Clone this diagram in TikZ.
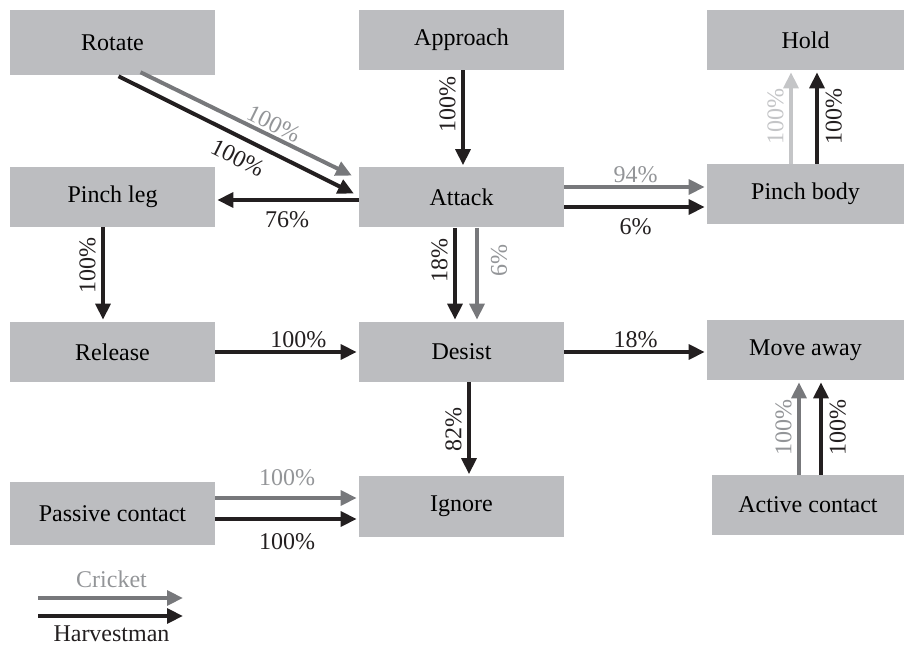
\documentclass[tikz,border=0pt]{standalone}
\usepackage{fontspec}
\setmainfont{Liberation Serif}
\usetikzlibrary{arrows.meta,calc}
\definecolor{boxgray}{HTML}{BCBDC0}
\definecolor{harvest}{HTML}{231F20}
\definecolor{cricket}{HTML}{77787B}
\definecolor{crickettext}{HTML}{939598}
\definecolor{pale}{HTML}{C4C5C7}
\tikzset{
	stage/.style = {fill=boxgray, minimum width=153.75pt, minimum height=45pt, inner sep=0pt,
		font=\fontsize{18}{20}\selectfont},
	flow/.style = {line width=3pt, -{Triangle[length=12pt, width=11pt]}, shorten >=1.5pt},
	harv/.style = {flow, draw=harvest},
	crick/.style = {flow, draw=cricket},
	palearrow/.style = {flow, draw=pale},
	pct/.style = {font=\fontsize{18}{20}\selectfont, inner sep=1.5pt, text=harvest},
	vpct/.style = {pct, rotate=90, inner sep=4pt},
}
\begin{document}
\begin{tikzpicture}[x=0.75pt, y=-0.75pt]
	\useasboundingbox (0,0) rectangle (904,645);
	% Stages
	\node[stage, minimum height=48.75pt] (rotate) at (112.5,42.5) {Rotate};
	\node[stage] (approach) at (461.5,40) {Approach};
	\node[stage, minimum width=147.75pt] (hold) at (805.5,40) {Hold};
	\node[stage] (pinchleg) at (112.5,197) {Pinch leg};
	\node[stage] (attack) at (461.5,197.5) {Attack};
	\node[stage, minimum width=147.75pt] (pinchbody) at (805.5,194) {Pinch body};
	\node[stage] (release) at (112.5,352) {Release};
	\node[stage] (desist) at (461.5,352) {Desist};
	\node[stage, minimum width=147.75pt] (moveaway) at (805.5,350) {Move away};
	\node[stage, minimum height=47.25pt] (passive) at (112.5,513.5) {Passive contact};
	\node[stage] (ignore) at (461.5,506.5) {Ignore};
	\node[stage, minimum width=144pt] (active) at (808,505) {Active contact};
	% Rotate to attack
	\draw[crick] ($(rotate.south)+(28,-3)$) -- node[pct, text=crickettext, sloped, above, pos=0.6] {100\%}
		($(attack.west)+(-5,-21)$);
	\draw[harv] ($(rotate.south)+(6,1)$) -- node[pct, sloped, below=6pt, pos=0.54] {100\%}
		($(attack.west)+(-3,-3)$);
	% Approach to attack
	\draw[harv] ($(approach.south)+(1.5,0)$) coordinate (ap) --
		node[vpct, anchor=south, pos=0.35] {100\%} (ap |- attack.north);
	% Attack to pinch leg, pinch body
	\draw[harv] ($(attack.west)+(0,2.5)$) coordinate (al) --
		node[pct, below=6pt] {76\%} (al -| pinchleg.east);
	\draw[crick] ($(attack.east)+(0,-10.5)$) coordinate (ar1) --
		node[pct, text=crickettext, above] {94\%} (ar1 -| pinchbody.west);
	\draw[harv] ($(attack.east)+(0,9.5)$) coordinate (ar2) --
		node[pct, below=6pt] {6\%} (ar2 -| pinchbody.west);
	% Pinch body to hold
	\draw[palearrow] ($(pinchbody.north)+(-14.5,0)$) coordinate (pb1) --
		node[vpct, text=pale, anchor=south] {100\%} (pb1 |- hold.south);
	\draw[harv] ($(pinchbody.north)+(11.5,0)$) coordinate (pb2) --
		node[vpct, anchor=north, inner sep=5pt] {100\%} (pb2 |- hold.south);
	% Attack to desist
	\draw[harv] ($(attack.south)+(-6.5,0)$) coordinate (ad1) --
		node[vpct, anchor=south, pos=0.35] {18\%} (ad1 |- desist.north);
	\draw[crick] ($(attack.south)+(15.5,0)$) coordinate (ad2) --
		node[vpct, text=crickettext, anchor=north, pos=0.35, inner sep=9pt] {6\%} (ad2 |- desist.north);
	% Pinch leg to release
	\draw[harv] ($(pinchleg.south)+(-9.5,0)$) coordinate (pl) --
		node[vpct, anchor=south, pos=0.4] {100\%} (pl |- release.north);
	% Release to desist, desist to move away
	\draw[harv] (release.east) -- node[pct, above, pos=0.58] {100\%} (desist.west);
	\draw[harv] (desist.east) coordinate (de) -- node[pct, above] {18\%} (de -| moveaway.west);
	% Desist to ignore
	\draw[harv] ($(desist.south)+(7.5,0)$) coordinate (di) --
		node[vpct, anchor=south] {82\%} (di |- ignore.north);
	% Passive contact to ignore
	\draw[crick] ($(passive.east)+(0,-15.5)$) coordinate (pc1) --
		node[pct, text=crickettext, above=6pt] {100\%} (pc1 -| ignore.west);
	\draw[harv] ($(passive.east)+(0,5.5)$) coordinate (pc2) --
		node[pct, below=8pt] {100\%} (pc2 -| ignore.west);
	% Active contact to move away
	\draw[crick] ($(active.north)+(-9,0)$) coordinate (ac1) --
		node[vpct, text=crickettext, anchor=south] {100\%} (ac1 |- moveaway.south);
	\draw[harv] ($(active.north)+(13,0)$) coordinate (ac2) --
		node[vpct, anchor=north, inner sep=5pt] {100\%} (ac2 |- moveaway.south);
	% Legend
	\coordinate (cricketa) at (38,598);
	\coordinate (cricketb) at (185,598);
	\coordinate (harvesta) at (38,616);
	\coordinate (harvestb) at (185,616);
	\draw[crick] (cricketa) -- node[pct, text=crickettext, above=5pt] {Cricket} (cricketb);
	\draw[harv] (harvesta) -- node[pct, below=4pt] {Harvestman} (harvestb);
\end{tikzpicture}
\end{document}
